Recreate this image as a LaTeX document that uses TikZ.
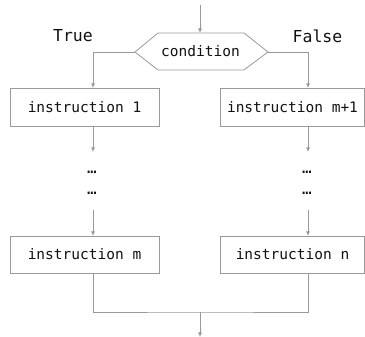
\documentclass[tikz,border=0pt]{standalone}
\usepackage{fontspec}
\setmonofont{DejaVu Sans Mono}
\usetikzlibrary{arrows.meta}
\definecolor{linegray}{HTML}{999999}
\definecolor{txt}{HTML}{111111}
\begin{document}
\begin{tikzpicture}[x=1pt,y=-1pt,
  box/.style={draw=linegray,line width=0.8pt,text=txt,font=\ttfamily\fontsize{14.5}{15}\selectfont,inner sep=0pt},
  lbl/.style={text=txt,font=\ttfamily\fontsize{16.5}{17}\selectfont,inner sep=0pt},
  dots/.style={text=txt,font=\ttfamily\fontsize{16}{16}\selectfont,inner sep=0pt},
  conn/.style={draw=linegray,line width=0.8pt},
  arr/.style={conn,-{Latex[length=4.5pt,width=4pt]}}]
\useasboundingbox (0,0) rectangle (365,337);
% hexagon condition
\coordinate (hl) at (135,52);
\coordinate (hr) at (268,52);
\draw[conn,fill=white] (hl) -- (158,33) -- (244,33) -- (hr) -- (244,70) -- (158,70) -- cycle;
\node[text=txt,inner sep=0pt,font=\ttfamily\fontsize{14.5}{15}\selectfont] (cond) at (200.5,51.5) {condition};
\coordinate (top) at (200,5);
\coordinate (ctop) at (200,33);
\draw[arr] (top) -- (ctop);
% labels
\node[lbl] (true) at (73,36) {True};
\node[lbl] (false) at (317.5,36) {False};
% boxes
\node[box,minimum width=149pt,minimum height=38pt] (i1) at (84.5,107) {instruction 1};
\node[box,minimum width=144pt,minimum height=38pt] (im1) at (292.5,107) {instruction m+1};
\node[box,minimum width=149pt,minimum height=37pt] (im) at (84.5,254.5) {instruction m};
\node[box,minimum width=144pt,minimum height=37pt] (in) at (292.5,254.5) {instruction n};
% branch connectors
\coordinate (lt) at (93,88);
\coordinate (rt) at (308,88);
\draw[arr] (hl) -| (lt);
\draw[arr] (hr) -| (rt);
% dots
\node[dots] (ld1) at (92,172) {…};
\node[dots] (ld2) at (92,193) {…};
\node[dots] (rd1) at (307,172) {…};
\node[dots] (rd2) at (307,193) {…};
% arrows below first boxes
\coordinate (la1) at (93,126);
\coordinate (la2) at (93,152);
\coordinate (ra1) at (308,126);
\coordinate (ra2) at (308,152);
\draw[arr] (la1) -- (la2);
\draw[arr] (ra1) -- (ra2);
% arrows into last boxes
\coordinate (lb1) at (93,210);
\coordinate (lb2) at (93,236);
\coordinate (rb1) at (308,210);
\coordinate (rb2) at (308,236);
\draw[arr] (lb1) -- (lb2);
\draw[arr] (rb1) -- (rb2);
% merge
\coordinate (lm) at (93,273);
\coordinate (rm) at (308,273);
\coordinate (mid) at (200,312);
\coordinate (out) at (200,337);
\draw[conn] (lm) |- (mid) -| (rm);
\draw[arr] (mid) -- (out);
\end{tikzpicture}
\end{document}
